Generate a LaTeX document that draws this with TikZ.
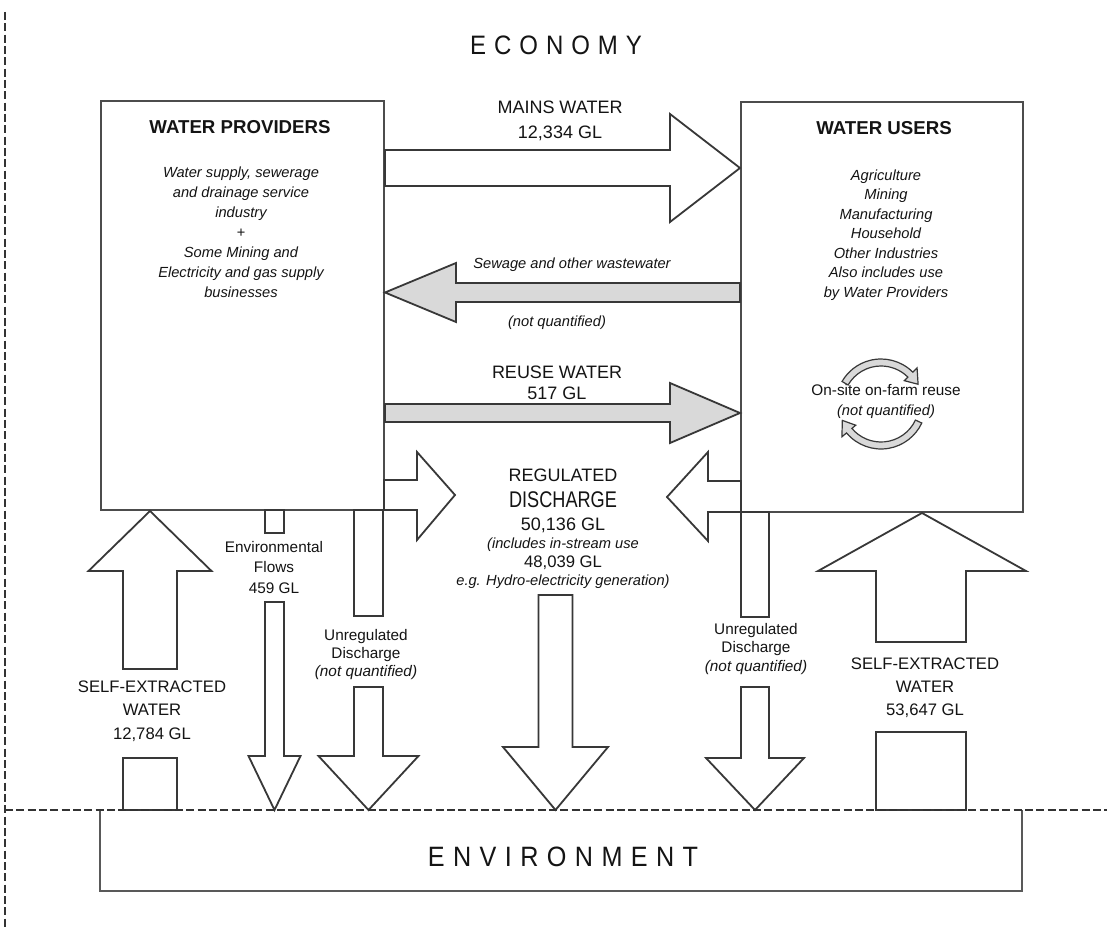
\documentclass[tikz,border=0pt]{standalone}
\usepackage{fontspec}
\setmainfont{Liberation Sans}
\newfontfamily\spacedfont[LetterSpace=30,FakeStretch=0.9]{Liberation Sans}
\newfontfamily\narrowfont[FakeStretch=0.8]{Liberation Sans}
\usetikzlibrary{fit}

\tikzset{
  txt/.style={text=black!92, inner sep=0pt, align=center},
  heading/.style={txt, font=\fontsize{20}{24}\selectfont\spacedfont},
  title/.style={txt, font=\fontsize{14}{17}\selectfont\bfseries},
  flowlbl/.style={txt, font=\fontsize{13.5}{18.75}\selectfont},
  small/.style={txt, font=\fontsize{11.5}{14}\selectfont},
  smallit/.style={txt, font=\fontsize{11}{15}\selectfont\itshape},
  box/.style={draw=black!70, line width=1.5pt, inner sep=0pt},
  flow/.style={draw=black!78, line width=1.35pt, fill=white, line join=miter},
  greyflow/.style={flow, fill=black!15},
  border/.style={draw=black!80, line width=1.3pt, dash pattern=on 6pt off 2.5pt},
}

\begin{document}
\begin{tikzpicture}[x=0.75pt,y=-0.75pt]
\useasboundingbox (0,0) rectangle (1107,930);
\fill[white] (0,0) rectangle (1107,930);

% economy / environment boundary
\coordinate (btop) at (5,12);
\coordinate (bbot) at (5,930);
\draw[border] (btop) -- (bbot);

\node[heading] (economy) at (556,45) {ECONOMY};

% the two sectors of the economy
\node[box, fit={(101,101) (384,510)}] (prov) {};
\node[box, fit={(741,102) (1023,512)}] (users) {};

\node[title] (provtitle) at (240,127) {WATER PROVIDERS};
\node[smallit] (provtext) at (241,232) {Water supply, sewerage\\and drainage service\\industry\\+\\Some Mining and\\Electricity and gas supply\\businesses};

\node[title] (userstitle) at (884,128) {WATER USERS};
\node[smallit, font=\fontsize{11}{14.6}\selectfont\itshape] (userstext) at (886,235) {Agriculture\\Mining\\Manufacturing\\Household\\Other Industries\\Also includes use\\by Water Providers};

% mains water
\draw[flow] (385,150) -- (670,150) -- (670,114) -- (users.west |- 0,168) -- (670,222) -- (670,186) -- (385,186) -- cycle;
\node[flowlbl] (mains) at (560,121) {MAINS WATER\\12,334 GL};

% sewage and other wastewater
\draw[greyflow] (740,283) -- (456,283) -- (456,263) -- (prov.east |- 0,292.5) -- (456,322) -- (456,302) -- (740,302) -- cycle;
\node[smallit] (sewage) at (572,265) {Sewage and other wastewater};
\node[smallit] (sewagenq) at (557,323) {(not quantified)};

% reuse water
\draw[greyflow] (385,404) -- (670,404) -- (670,383) -- (users.west |- 0,413) -- (670,443) -- (670,422) -- (385,422) -- cycle;
\node[flowlbl, font=\fontsize{13.5}{15.75}\selectfont] (reuse) at (557,382.5) {REUSE WATER\\517 GL};

% on-site reuse cycle
\node[txt, font=\fontsize{11.5}{14}\selectfont] (onsite) at (886,390) {On-site on-farm reuse};
\node[smallit] (onsitenq) at (886,412) {(not quantified)};
\begin{scope}[shift={(881,404)}]
  \filldraw[greyflow, line width=0.9pt] (-150:38) arc[start angle=-150, end angle=-45, radius=38]
    -- (-45:33) -- (-28:42) -- (-45:51) -- (-45:45)
    arc[start angle=-45, end angle=-150, radius=45] -- cycle;
  \filldraw[greyflow, line width=0.9pt] (25:38) arc[start angle=25, end angle=140, radius=38]
    -- (140:33) -- (157:42) -- (140:51) -- (140:45)
    arc[start angle=140, end angle=25, radius=45] -- cycle;
\end{scope}

% regulated discharge
\draw[flow] (384,480) -- (417,480) -- (417,452) -- (455,495) -- (417,540) -- (417,510) -- (384,510) -- cycle;
\draw[flow] (741,481) -- (708,481) -- (708,452) -- (667,497) -- (708,541) -- (708,512) -- (741,512) -- cycle;
\node[flowlbl] (reg1) at (563,475) {REGULATED};
\node[txt, font=\fontsize{17}{20}\selectfont\narrowfont] (reg2) at (563,500) {DISCHARGE};
\node[flowlbl] (reg3) at (563,525) {50,136 GL};
\node[smallit] (reg4) at (563,545) {(includes in-stream use};
\node[flowlbl, font=\fontsize{12.5}{15}\selectfont] (reg5) at (563,563) {48,039 GL};
\node[smallit] (reg6) at (563,582) {e.g. Hydro-electricity generation)};
\draw[flow] (538.5,595) -- (572.5,595) -- (572.5,747) -- (608,747) -- (555.5,810) -- (503,747) -- (538.5,747) -- cycle;

% environmental flows
\draw[flow] (265,510) rectangle (284,533);
\node[small, font=\fontsize{11.5}{15.4}\selectfont] (envflows) at (274,567.5) {Environmental\\Flows\\459 GL};
\draw[flow] (265,602) -- (284,602) -- (284,756) -- (300.5,756) -- (274.5,810) -- (248.5,756) -- (265,756) -- cycle;

% unregulated discharge from the providers
\draw[flow] (354,510) rectangle (383,616);
\node[small, font=\fontsize{11.5}{13.5}\selectfont] (unregl) at (366,655) {Unregulated\\Discharge\\\textit{(not quantified)}};
\draw[flow] (354,687) -- (383,687) -- (383,756) -- (418.5,756) -- (368.5,810) -- (318.5,756) -- (354,756) -- cycle;

% unregulated discharge from the users
\draw[flow] (741,512) rectangle (769,617);
\node[small, font=\fontsize{11.5}{14.2}\selectfont] (unregr) at (756,649) {Unregulated\\Discharge\\\textit{(not quantified)}};
\draw[flow] (741,687) -- (769,687) -- (769,758) -- (804,758) -- (755,810) -- (706,758) -- (741,758) -- cycle;

% self-extracted water, providers
\draw[flow] (123,669) -- (123,571) -- (88.5,571) -- (prov.south -| 150,0) -- (211.5,571) -- (177,571) -- (177,669) -- cycle;
\node[txt, font=\fontsize{12.5}{17.6}\selectfont] (selfl) at (152,711) {SELF-EXTRACTED\\WATER\\12,784 GL};
\draw[flow] (123,810) rectangle (177,758);

% self-extracted water, users
\draw[flow] (876,642) -- (876,571) -- (818,571) -- (users.south -| 922,0) -- (1026,571) -- (966,571) -- (966,642) -- cycle;
\node[txt, font=\fontsize{12.5}{17.25}\selectfont] (selfr) at (925,688) {SELF-EXTRACTED\\WATER\\53,647 GL};
\draw[flow] (876,810) rectangle (966,732);

% the environment
\node[inner sep=0pt, fit={(100,810) (1022,891)}] (env) {};
\draw[draw=black!65, line width=1.5pt] (env.north west) -- (env.south west) -- (env.south east) -- (env.north east);
\node[heading, font=\fontsize{21}{24}\selectfont\spacedfont] (envtext) at (563,857) {ENVIRONMENT};

\coordinate (hleft) at (5,810);
\coordinate (hright) at (1107,810);
\draw[border] (hleft) -- (hright);
\end{tikzpicture}
\end{document}
